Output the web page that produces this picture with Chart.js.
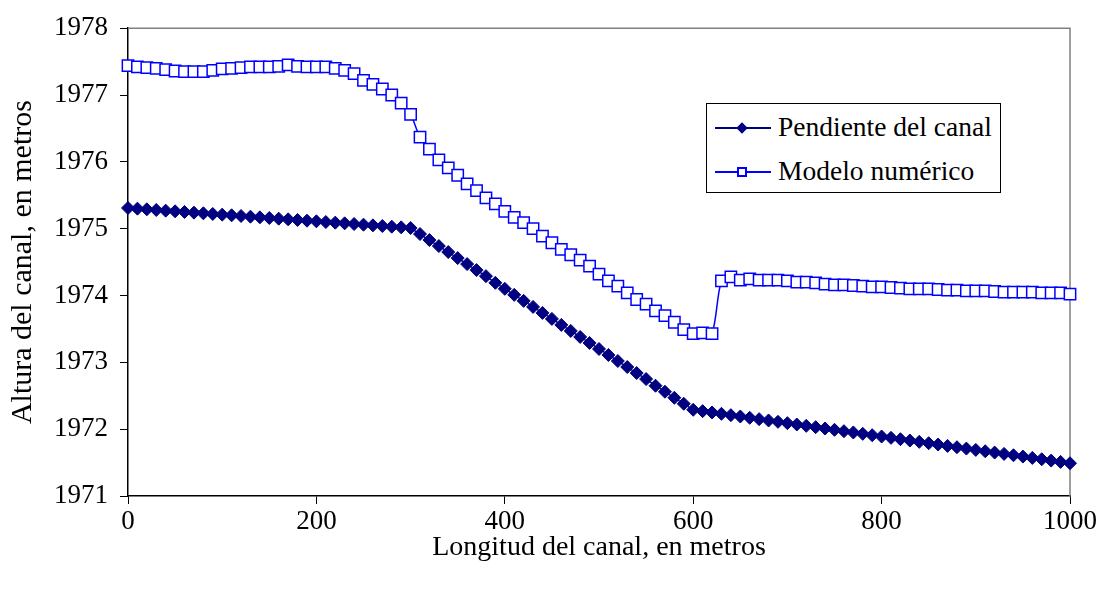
<!DOCTYPE html>
<html lang="es">
<head>
<meta charset="utf-8">
<title>Altura del canal</title>
<script src="https://cdn.jsdelivr.net/npm/chart.js@4.4.1/dist/chart.umd.min.js"></script>
<style>
  html, body { margin: 0; padding: 0; background: #fff; }
  #wrap { position: relative; width: 1105px; height: 592px; }
  #legend {
    position: absolute; left: 706px; top: 103px; width: 293px; height: 88px;
    border: 1px solid #000; background: #fff;
    font-family: "Liberation Serif", "Times New Roman", serif; font-size: 27.5px; color: #000;
  }
  .fila { position: absolute; left: 0; width: 100%; height: 0; }
  .linea { position: absolute; left: 8px; width: 56px; top: -1px; height: 2px; }
  .marca { position: absolute; box-sizing: border-box; }
  .texto { position: absolute; left: 71px; top: -17px; line-height: 32px; white-space: nowrap; }
</style>
</head>
<body>
<div id="wrap">
  <canvas id="grafico" width="1105" height="592"></canvas>
  <div id="legend"></div>
</div>
<script>
// distancia a lo largo del canal (m)
const distancias = [
  0, 10, 20, 30, 40, 50, 60, 70, 80, 90,
  100, 110, 120, 130, 140, 150, 160, 170, 180, 190,
  200, 210, 220, 230, 240, 250, 260, 270, 280, 290,
  300, 310, 320, 330, 340, 350, 360, 370, 380, 390,
  400, 410, 420, 430, 440, 450, 460, 470, 480, 490,
  500, 510, 520, 530, 540, 550, 560, 570, 580, 590,
  600, 610, 620, 630, 640, 650, 660, 670, 680, 690,
  700, 710, 720, 730, 740, 750, 760, 770, 780, 790,
  800, 810, 820, 830, 840, 850, 860, 870, 880, 890,
  900, 910, 920, 930, 940, 950, 960, 970, 980, 990,
  1000
];

// cota del fondo del canal (m)
const pendiente = [
  1975.31, 1975.30, 1975.29, 1975.28, 1975.27, 1975.26, 1975.25, 1975.24, 1975.23, 1975.22,
  1975.21, 1975.20, 1975.19, 1975.18, 1975.17, 1975.16, 1975.15, 1975.14, 1975.13, 1975.12,
  1975.11, 1975.10, 1975.09, 1975.08, 1975.07, 1975.06, 1975.05, 1975.04, 1975.03, 1975.02,
  1975.01, 1974.92, 1974.83, 1974.74, 1974.65, 1974.56, 1974.47, 1974.38, 1974.29, 1974.19,
  1974.10, 1974.01, 1973.92, 1973.83, 1973.74, 1973.65, 1973.56, 1973.47, 1973.38, 1973.29,
  1973.20, 1973.11, 1973.02, 1972.93, 1972.84, 1972.75, 1972.65, 1972.56, 1972.47, 1972.38,
  1972.29, 1972.27, 1972.25, 1972.23, 1972.21, 1972.19, 1972.17, 1972.15, 1972.13, 1972.11,
  1972.09, 1972.07, 1972.05, 1972.03, 1972.01, 1971.99, 1971.97, 1971.95, 1971.93, 1971.91,
  1971.89, 1971.87, 1971.85, 1971.83, 1971.81, 1971.79, 1971.77, 1971.75, 1971.73, 1971.71,
  1971.69, 1971.67, 1971.65, 1971.63, 1971.61, 1971.59, 1971.57, 1971.55, 1971.53, 1971.51,
  1971.49
];

// superficie de agua del modelo (m)
const modelo = [
  1977.44, 1977.42, 1977.41, 1977.40, 1977.38, 1977.36, 1977.35, 1977.35, 1977.35, 1977.37,
  1977.39, 1977.40, 1977.41, 1977.42, 1977.42, 1977.42, 1977.43, 1977.45, 1977.43, 1977.42,
  1977.42, 1977.42, 1977.40, 1977.37, 1977.32, 1977.22, 1977.16, 1977.09, 1977.00, 1976.88,
  1976.71, 1976.37, 1976.19, 1976.03, 1975.91, 1975.80, 1975.67, 1975.57, 1975.46, 1975.37,
  1975.26, 1975.17, 1975.09, 1975.00, 1974.89, 1974.79, 1974.69, 1974.61, 1974.53, 1974.44,
  1974.32, 1974.22, 1974.14, 1974.04, 1973.94, 1973.87, 1973.77, 1973.70, 1973.60, 1973.49,
  1973.43, 1973.44, 1973.43, 1974.22, 1974.28, 1974.23, 1974.25, 1974.23, 1974.23, 1974.23,
  1974.22, 1974.20, 1974.20, 1974.19, 1974.17, 1974.16, 1974.16, 1974.15, 1974.14, 1974.13,
  1974.13, 1974.12, 1974.11, 1974.10, 1974.10, 1974.10, 1974.09, 1974.08, 1974.08, 1974.07,
  1974.07, 1974.07, 1974.06, 1974.05, 1974.05, 1974.05, 1974.05, 1974.04, 1974.04, 1974.04,
  1974.02
];

const nombresSeries = ['Pendiente del canal', 'Modelo numérico'];
const ticksX = [0, 200, 400, 600, 800, 1000];
const ticksY = [1971, 1972, 1973, 1974, 1975, 1976, 1977, 1978];

const FUENTE = '"Liberation Serif", "Times New Roman", serif';
const AZUL_OSCURO = '#000080';
const AZUL = '#0000ff';

// borde gris arriba y a la derecha del area de trazado
const bordeGris = {
  id: 'bordeGris',
  beforeDatasetsDraw(chart) {
    const { ctx, chartArea: a } = chart;
    ctx.save();
    ctx.strokeStyle = '#808080';
    ctx.lineWidth = 1.5;
    ctx.beginPath();
    ctx.moveTo(a.left, a.top);
    ctx.lineTo(a.right, a.top);
    ctx.lineTo(a.right, a.bottom);
    ctx.stroke();
    ctx.restore();
  }
};

const puntos = vals => distancias.map((x, i) => ({ x: x, y: vals[i] }));

new Chart(document.getElementById('grafico'), {
  type: 'line',
  data: {
    datasets: [{
      label: nombresSeries[0],
      data: puntos(pendiente),
      borderColor: AZUL_OSCURO,
      backgroundColor: AZUL_OSCURO,
      borderWidth: 1.5,
      pointStyle: 'rectRot',
      pointRadius: 6.5,
      pointBorderWidth: 1,
      tension: 0,
      clip: false
    }, {
      label: nombresSeries[1],
      data: puntos(modelo),
      borderColor: AZUL,
      backgroundColor: '#ffffff',
      borderWidth: 1.5,
      pointStyle: 'rect',
      pointRadius: 8,
      pointBorderWidth: 1.5,
      tension: 0.3,
      clip: false
    }]
  },
  options: {
    responsive: false,
    animation: false,
    events: [],
    layout: { padding: { top: 21, right: 35, left: 0, bottom: 0 } },
    plugins: { legend: { display: false }, tooltip: { enabled: false } },
    scales: {
      x: {
        type: 'linear',
        min: 0, max: 1000,
        afterBuildTicks: s => { s.ticks = ticksX.map(v => ({ value: v })); },
        afterFit: s => { s.height = 96; },
        grid: { drawOnChartArea: false, drawTicks: true, tickLength: 8, color: '#000' },
        border: { color: '#000', width: 1.5 },
        ticks: { color: '#000', padding: 2, font: { family: FUENTE, size: 27 }, callback: v => String(v) },
        title: {
          display: true, text: 'Longitud del canal, en metros', color: '#000',
          font: { family: FUENTE, size: 28 }, padding: { top: 0, bottom: 28 }
        }
      },
      y: {
        min: 1971, max: 1978,
        afterBuildTicks: s => { s.ticks = ticksY.map(v => ({ value: v })); },
        afterFit: s => { s.width = 128; },
        grid: { drawOnChartArea: false, drawTicks: true, tickLength: 8, color: '#000' },
        border: { color: '#000', width: 1.5 },
        ticks: { color: '#000', padding: 12, font: { family: FUENTE, size: 27 }, callback: v => String(v) },
        title: {
          display: true, text: 'Altura del canal, en metros', color: '#000',
          font: { family: FUENTE, size: 30 }, padding: { top: 5, bottom: 0 }
        }
      }
    }
  },
  plugins: [bordeGris]
});

// leyenda dentro del grafico
const leyenda = document.getElementById('legend');
const filasY = [24, 68];
nombresSeries.forEach((nombre, i) => {
  const fila = document.createElement('div');
  fila.className = 'fila';
  fila.style.top = filasY[i] + 'px';
  const linea = document.createElement('div');
  linea.className = 'linea';
  linea.style.background = i === 0 ? AZUL_OSCURO : AZUL;
  const marca = document.createElement('div');
  marca.className = 'marca';
  if (i === 0) {
    marca.style.cssText = 'left:31px;top:-4px;width:8px;height:8px;background:' + AZUL_OSCURO + ';transform:rotate(45deg);';
  } else {
    marca.style.cssText = 'left:30px;top:-5px;width:10px;height:10px;background:#fff;border:2px solid ' + AZUL + ';';
  }
  const texto = document.createElement('div');
  texto.className = 'texto';
  texto.textContent = nombre;
  fila.append(linea, marca, texto);
  leyenda.appendChild(fila);
});
</script>
</body>
</html>
